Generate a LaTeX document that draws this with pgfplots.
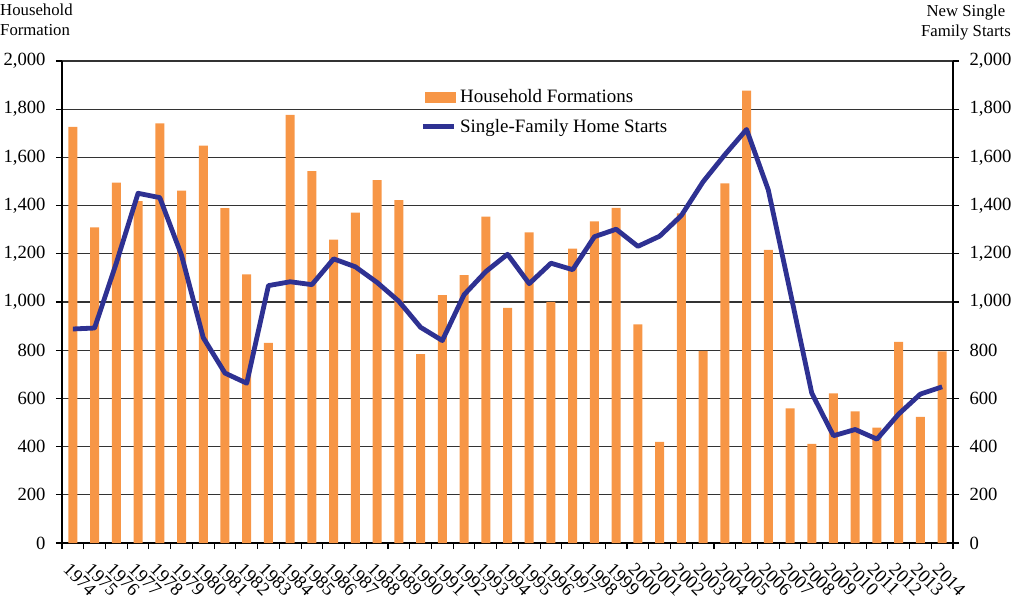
\documentclass[border=0pt]{standalone}
\usepackage{fontspec}
\setmainfont{Liberation Serif}
\usepackage{pgfplots}
\usepackage{pgfplotstable}
\pgfplotsset{compat=1.18}
\definecolor{barorange}{RGB}{247,150,70}
\definecolor{linenavy}{RGB}{46,49,146}

\pgfplotstableread{
x year hh starts
0 1974 1727 888
1 1975 1310 892
2 1976 1495 1162
3 1977 1419 1451
4 1978 1741 1433
5 1979 1462 1194
6 1980 1649 852
7 1981 1389 705
8 1982 1115 663
9 1983 830 1068
10 1984 1776 1084
11 1985 1543 1072
12 1986 1259 1179
13 1987 1371 1146
14 1988 1506 1081
15 1989 1423 1003
16 1990 784 895
17 1991 1029 840
18 1992 1112 1030
19 1993 1354 1126
20 1994 976 1198
21 1995 1289 1076
22 1996 1001 1161
23 1997 1221 1134
24 1998 1335 1271
25 1999 1391 1302
26 2000 907 1231
27 2001 420 1273
28 2002 1368 1359
29 2003 797 1499
30 2004 1492 1611
31 2005 1877 1716
32 2006 1216 1465
33 2007 559 1046
34 2008 411 622
35 2009 621 445
36 2010 546 471
37 2011 479 431
38 2012 835 535
39 2013 523 618
40 2014 795 648
}\datatable

\begin{document}
\begin{tikzpicture}
\useasboundingbox (-62bp,-55bp) rectangle (952bp,543bp);
\begin{axis}[
  at={(0,0)}, anchor=south west,
  scale only axis, width=891bp, height=482bp,
  xmin=-0.5, xmax=40.5, ymin=0, ymax=2000,
  axis x line*=bottom, axis y line*=left,
  axis line style={black, line width=1.2bp, -},
  ytick={0,200,...,2000},
  ymajorgrids, grid style={black!80, line width=1.1bp},
  xtick={-0.5,0.5,...,40.5},
  xticklabels={1974,1975,1976,1977,1978,1979,1980,1981,1982,1983,1984,1985,1986,1987,1988,1989,1990,1991,1992,1993,1994,1995,1996,1997,1998,1999,2000,2001,2002,2003,2004,2005,2006,2007,2008,2009,2010,2011,2012,2013,2014,{}},
  tick align=outside, major tick length=6bp,
  tick style={black, line width=1.1bp},
  xticklabel style={rotate=-45, anchor=north west, xshift=12bp, yshift=1bp, font=\fontsize{18.7}{20}\selectfont},
  yticklabel style={xshift=-7bp, font=\fontsize{18.7}{20}\selectfont},
  /pgf/number format/1000 sep={,},
  /pgf/number format/assume math mode=true,
  legend style={draw=none, fill=none, at={(0.402,0.945)}, anchor=north west,
    font=\fontsize{19}{22}\selectfont, row sep=11bp, inner sep=0pt,
    nodes={inner xsep=4bp}},
  legend cell align=left,
]
\addplot[ybar, bar width=9bp, fill=barorange, draw=none,
  legend image code/.code={\fill[barorange] (0bp,-5.5bp) rectangle (31bp,5.5bp);}]
  table[x=x, y=hh] {\datatable};
\addlegendentry{Household Formations}
\addplot[linenavy, line width=4.8bp, line join=round, mark=none,
  legend image code/.code={\draw[linenavy, line width=4.8bp] (-2bp,0bp) -- (29bp,0bp);}]
  table[x=x, y=starts] {\datatable};
\addlegendentry{Single-Family Home Starts}
\end{axis}
\begin{axis}[
  at={(0,0)}, anchor=south west,
  scale only axis, width=891bp, height=482bp,
  xmin=-0.5, xmax=40.5, ymin=0, ymax=2000,
  axis x line=none, axis y line*=right,
  axis line style={black, line width=1.2bp, -},
  ytick={0,200,...,2000},
  tick align=outside, major tick length=6bp,
  tick style={black, line width=1.1bp},
  yticklabel style={xshift=7bp, font=\fontsize{18.7}{20}\selectfont},
  /pgf/number format/1000 sep={,},
  /pgf/number format/assume math mode=true,
]
\addplot[draw=none, forget plot] coordinates {(0,0)};
\end{axis}
\node[anchor=north west, align=left, inner sep=0pt, font=\fontsize{16.8}{20}\selectfont] at (-62bp,539bp) {Household\\Formation};
\node[anchor=north east, align=center, inner sep=0pt, font=\fontsize{16.8}{20}\selectfont] at (949bp,538bp) {New Single\\Family Starts};
\end{tikzpicture}
\end{document}
